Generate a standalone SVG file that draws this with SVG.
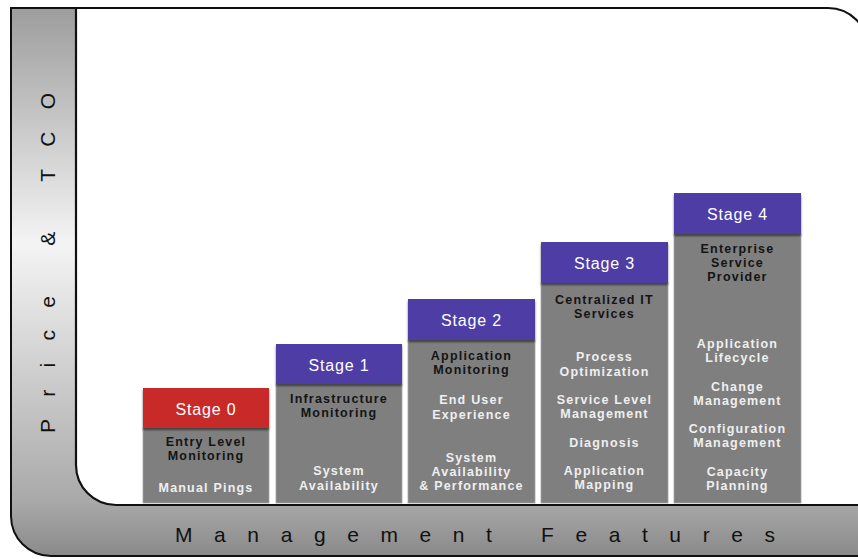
<svg xmlns="http://www.w3.org/2000/svg" width="858" height="559" viewBox="0 0 858 559">
<defs>
<linearGradient id="frameGrad" gradientUnits="userSpaceOnUse" x1="0" y1="8" x2="0" y2="556">
<stop offset="0" stop-color="#9d9d9d"/>
<stop offset="0.43" stop-color="#f4f4f4"/>
<stop offset="0.9" stop-color="#a9a9a9"/>
<stop offset="1" stop-color="#8a8a8a"/>
</linearGradient>
<filter id="shadow" x="-5%" y="-10%" width="110%" height="140%">
<feDropShadow dx="0" dy="2" stdDeviation="1.2" flood-color="#000" flood-opacity="0.55"/>
</filter>
<style>
.body{fill:#7f7f7f;stroke:#a3a3a3;stroke-width:0.8}
.red{fill:#c8292b}
.purple{fill:#4f3da6}
.hdr{font-family:"Liberation Sans",Arial,sans-serif;font-size:16px;fill:#ffffff;text-anchor:middle;letter-spacing:0.8px}
.t{font-family:"Liberation Sans",Arial,sans-serif;font-size:12.5px;font-weight:bold;text-anchor:middle;letter-spacing:1.2px}
.dk{fill:#141414}
.lt{fill:#efefef}
.axis{font-family:"Liberation Sans",Arial,sans-serif;font-size:21px;fill:#111}
</style>
</defs>
<rect width="858" height="559" fill="#ffffff"/>
<g id="frame">
<path d="M11,8 H80 V400 H870 V556 H51 A40,40 0 0 1 11,516 Z" fill="url(#frameGrad)" stroke="#111" stroke-width="2"/>
<path d="M76,8 H828 A40,40 0 0 1 868,48 V505 H116 A40,40 0 0 1 76,465 Z" fill="#ffffff" stroke="#111" stroke-width="2.2"/>
</g>
<g id="axis-labels">
<text class="axis" x="175" y="542" textLength="600" lengthAdjust="spacing">Management Features</text>
<text class="axis" transform="translate(55,433) rotate(-90)" x="0" y="0" textLength="340" lengthAdjust="spacing">Price &amp; TCO</text>
</g>
<g id="connectors"/>
<g id="stage0">
<rect class="body" x="143" y="428" width="126" height="75"/>
<rect class="red" x="143" y="388" width="126" height="40" filter="url(#shadow)"/>
<text class="hdr" x="206" y="415">Stage 0</text>
<text class="t dk" x="206" y="446">Entry Level</text>
<text class="t dk" x="206" y="460">Monitoring</text>
<text class="t lt" x="206" y="492">Manual Pings</text>
</g>
<g id="stage1">
<rect class="body" x="276" y="384" width="126" height="119"/>
<rect class="purple" x="276" y="344" width="126" height="40" filter="url(#shadow)"/>
<text class="hdr" x="339" y="371">Stage 1</text>
<text class="t dk" x="339" y="403">Infrastructure</text>
<text class="t dk" x="339" y="417">Monitoring</text>
<text class="t lt" x="339" y="475">System</text>
<text class="t lt" x="339" y="490">Availability</text>
</g>
<g id="stage2">
<rect class="body" x="408" y="340" width="127" height="163"/>
<rect class="purple" x="408" y="299" width="127" height="41" filter="url(#shadow)"/>
<text class="hdr" x="471.5" y="326">Stage 2</text>
<text class="t dk" x="471.5" y="360">Application</text>
<text class="t dk" x="471.5" y="374">Monitoring</text>
<text class="t lt" x="471.5" y="404">End User</text>
<text class="t lt" x="471.5" y="419">Experience</text>
<text class="t lt" x="471.5" y="462">System</text>
<text class="t lt" x="471.5" y="476">Availability</text>
<text class="t lt" x="471.5" y="490">&amp; Performance</text>
</g>
<g id="stage3">
<rect class="body" x="541" y="283" width="127" height="220"/>
<rect class="purple" x="541" y="242" width="127" height="41" filter="url(#shadow)"/>
<text class="hdr" x="604.5" y="269">Stage 3</text>
<text class="t dk" x="604.5" y="304">Centralized IT</text>
<text class="t dk" x="604.5" y="318">Services</text>
<text class="t lt" x="604.5" y="361">Process</text>
<text class="t lt" x="604.5" y="376">Optimization</text>
<text class="t lt" x="604.5" y="404">Service Level</text>
<text class="t lt" x="604.5" y="418">Management</text>
<text class="t lt" x="604.5" y="447">Diagnosis</text>
<text class="t lt" x="604.5" y="475">Application</text>
<text class="t lt" x="604.5" y="489">Mapping</text>
</g>
<g id="stage4">
<rect class="body" x="674" y="234" width="127" height="269"/>
<rect class="purple" x="674" y="193" width="127" height="41" filter="url(#shadow)"/>
<text class="hdr" x="737.5" y="220">Stage 4</text>
<text class="t dk" x="737.5" y="253">Enterprise</text>
<text class="t dk" x="737.5" y="267">Service</text>
<text class="t dk" x="737.5" y="281">Provider</text>
<text class="t lt" x="737.5" y="348">Application</text>
<text class="t lt" x="737.5" y="362">Lifecycle</text>
<text class="t lt" x="737.5" y="391">Change</text>
<text class="t lt" x="737.5" y="405">Management</text>
<text class="t lt" x="737.5" y="433">Configuration</text>
<text class="t lt" x="737.5" y="447">Management</text>
<text class="t lt" x="737.5" y="476">Capacity</text>
<text class="t lt" x="737.5" y="490">Planning</text>
</g>
</svg>
